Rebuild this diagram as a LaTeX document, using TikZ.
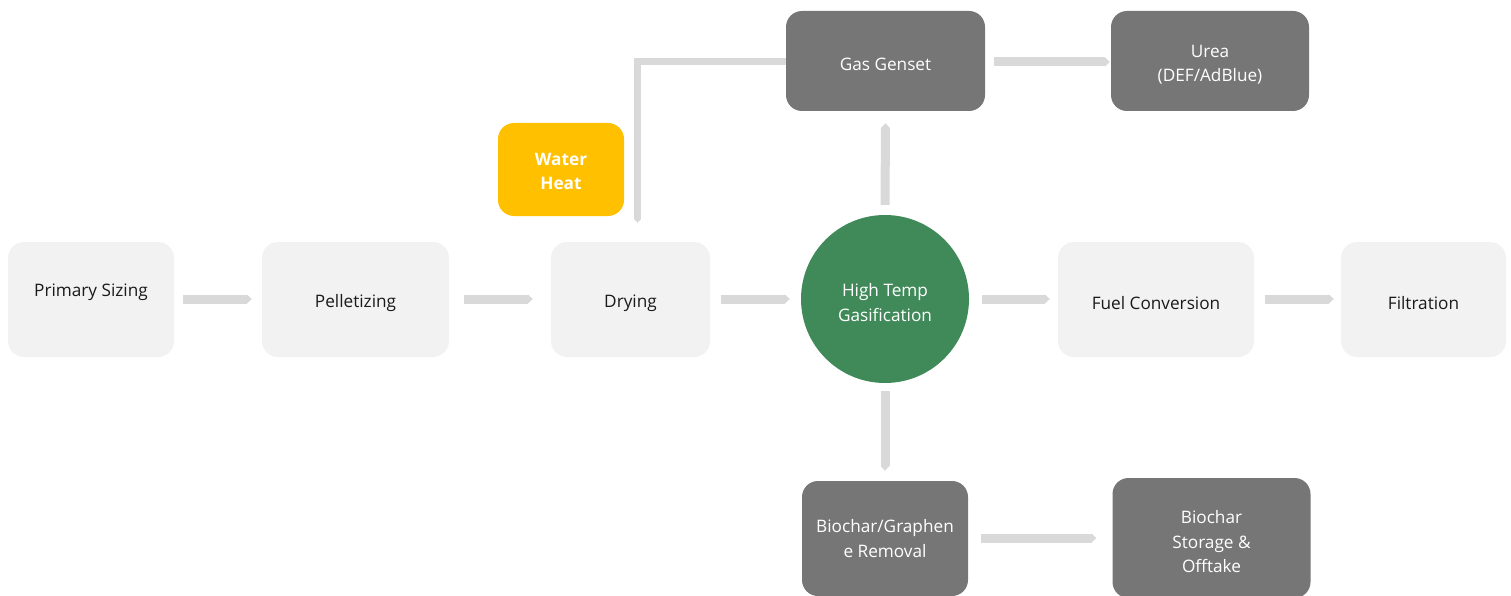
\documentclass[tikz,border=0pt]{standalone}
\usepackage{fontspec}
\setmainfont{Open Sans}
\usetikzlibrary{arrows.meta,calc}
\definecolor{lightbox}{HTML}{F2F2F2}
\definecolor{darkbox}{HTML}{767676}
\definecolor{greenc}{HTML}{408A5A}
\definecolor{yellowc}{HTML}{FFC000}
\definecolor{arrowc}{HTML}{D9D9D9}
\definecolor{txt}{HTML}{1A1A1A}
\tikzset{
  base/.style={rounded corners=16pt, inner sep=0pt},
  lightnode/.style={base, fill=lightbox},
  darknode/.style={base, fill=darkbox},
  yellownode/.style={base, fill=yellowc},
  circnode/.style={circle, fill=greenc, inner sep=0pt, minimum size=168pt},
  lbl/.style={align=center, inner sep=0pt, yshift=-4pt,
    font=\fontsize{17.2}{24.5}\selectfont},
  darklbl/.style={lbl, text=txt},
  whitelbl/.style={lbl, text=white},
  boldlbl/.style={lbl, text=white, yshift=2pt, font=\fontsize{17.2}{24.5}\selectfont\bfseries},
  flow/.style={draw=arrowc, line width=9pt, -{Triangle[length=5pt, width=9pt]}},
  thinflow/.style={draw=arrowc, line width=7pt, -{Triangle[length=4pt, width=7pt]}},
}
\begin{document}
\begin{tikzpicture}[x=1pt, y=-1pt]
\useasboundingbox (0,0) rectangle (1511,596);

\node[lightnode, minimum width=166pt, minimum height=115pt,
  label={[darklbl, yshift=11pt]center:Primary Sizing}] (ps) at (91,299.5) {};
\node[lightnode, minimum width=187pt, minimum height=115pt,
  label={[darklbl]center:Pelletizing}] (pel) at (355.5,299.5) {};
\node[lightnode, minimum width=159pt, minimum height=115pt,
  label={[darklbl]center:Drying}] (dry) at (630.5,299.5) {};
\node[yellownode, minimum width=126pt, minimum height=93pt,
  label={[boldlbl]center:Water\\Heat}] (wh) at (561,169.5) {};
\node[circnode, label={[whitelbl, yshift=0.5pt]center:High Temp\\Gasification}] (gas) at (885,299) {};
\node[darknode, minimum width=199pt, minimum height=100pt,
  label={[whitelbl, yshift=1pt]center:Gas Genset}] (gg) at (885.5,61) {};
\node[darknode, minimum width=198pt, minimum height=100pt,
  label={[whitelbl, yshift=0.5pt]center:Urea\\(DEF/AdBlue)}] (urea) at (1210,61) {};
\node[lightnode, minimum width=196pt, minimum height=115pt,
  label={[darklbl]center:Fuel Conversion}] (fuel) at (1156,299.5) {};
\node[lightnode, minimum width=165pt, minimum height=115pt,
  label={[darklbl]center:Filtration}] (filt) at (1423.5,299.5) {};
\node[darknode, minimum width=166pt, minimum height=115pt,
  label={[whitelbl, yshift=4pt]center:Biochar/Graphen\\e Removal}] (bio) at (885,538.5) {};
\node[darknode, minimum width=198pt, minimum height=120pt,
  label={[whitelbl]center:Biochar\\Storage \&\\Offtake}] (stor) at (1211.5,538) {};

\draw[flow, shorten <=9pt, shorten >=10pt] (ps.east |- 0,299) -- (pel.west |- 0,299);
\draw[flow, shorten <=15pt, shorten >=18pt] (pel.east |- 0,299) -- (dry.west |- 0,299);
\draw[flow, shorten <=11pt, shorten >=11pt] (dry.east |- 0,299) -- (gas.west);
\draw[flow, shorten <=13pt, shorten >=8pt] (gas.east) -- (fuel.west |- 0,299);
\draw[flow, shorten <=11pt, shorten >=7pt] (fuel.east |- 0,299) -- (filt.west |- 0,299);
\draw[flow, shorten <=10pt, shorten >=12pt] (gas.north) -- (gg.south);
\draw[flow, shorten <=8pt, shorten >=10pt] (gas.south) -- (bio.north);
\draw[flow, shorten <=9pt, shorten >=1pt] (gg.east |- 0,62) -- (urea.west |- 0,62);
\draw[flow, shorten <=13pt, shorten >=16pt] (bio.east |- 0,538) -- (stor.west |- 0,538);
\draw[thinflow] (gg.west |- 0,62) -| ([xshift=7pt, yshift=19pt]dry.north);
\end{tikzpicture}
\end{document}
